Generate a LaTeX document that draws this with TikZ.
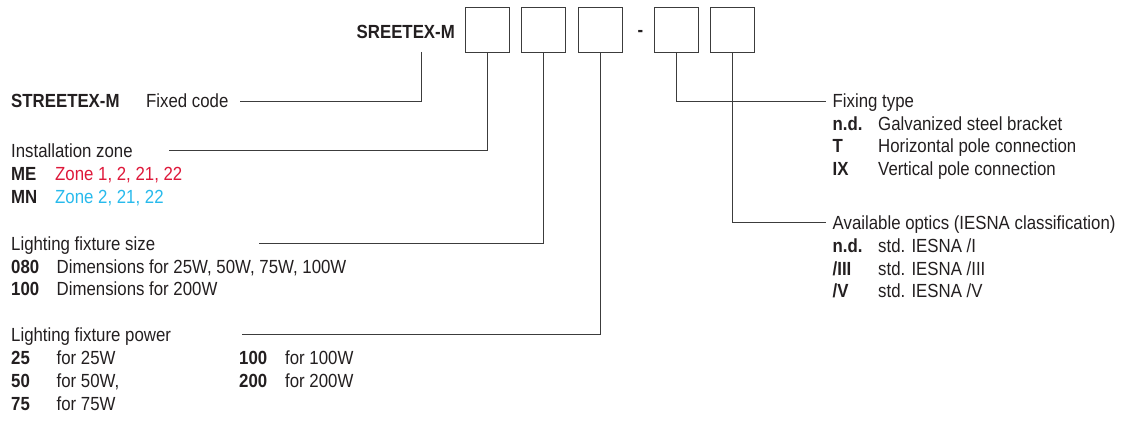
\documentclass[tikz,border=0pt]{standalone}
\usepackage{fontspec}
\setmainfont{Liberation Sans}[FakeStretch=0.885]
\definecolor{ink}{RGB}{35,31,32}
\definecolor{linec}{RGB}{60,60,60}
\definecolor{zonered}{RGB}{222,24,58}
\definecolor{zonecyan}{RGB}{40,186,236}
\begin{document}
\begin{tikzpicture}[x=1pt,y=-1pt,
  txt/.style={anchor=base west, inner sep=0pt, text=ink, font=\fontsize{19}{21}\selectfont},
  lbl/.style={txt, font=\fontsize{19}{21}\selectfont\bfseries},
  codebox/.style={draw=linec, line width=0.9pt, minimum width=44pt, minimum height=45pt, inner sep=0pt},
  conn/.style={draw=linec, line width=0.9pt}]
\useasboundingbox (0,0) rectangle (1126,420);

% code line
\node[lbl, anchor=base east] (sree) at (455,38.3) {SREETEX-M};
\node[codebox] (b1) at (487,29.5) {};
\node[codebox] (b2) at (543.5,29.5) {};
\node[codebox] (b3) at (600.5,29.5) {};
\node[lbl, anchor=base] (dash) at (640.5,37) {-};
\node[codebox] (b4) at (676.5,29.5) {};
\node[codebox] (b5) at (732,29.5) {};

% left column
\node[lbl] (fixl) at (11,107.7) {STREETEX-M};
\node[txt] (fixv) at (146,107.7) {Fixed code};

\node[txt] (zonet) at (11,157) {Installation zone};
\node[lbl] (mel) at (11,180.5) {ME};
\node[txt, text=zonered] (mev) at (55,180.5) {Zone 1, 2, 21, 22};
\node[lbl] (mnl) at (11,203.5) {MN};
\node[txt, text=zonecyan] (mnv) at (55,203.5) {Zone 2, 21, 22};

\node[txt] (sizet) at (11,250.5) {Lighting fixture size};
\node[lbl] (s1l) at (11,273) {080};
\node[txt] (s1v) at (56.5,273) {Dimensions for 25W, 50W, 75W, 100W};
\node[lbl] (s2l) at (11,295.5) {100};
\node[txt] (s2v) at (56.5,295.5) {Dimensions for 200W};

\node[txt] (powt) at (11,341) {Lighting fixture power};
\node[lbl] (p1l) at (11,364) {25};
\node[txt] (p1v) at (56.5,364) {for 25W};
\node[lbl] (p2l) at (11,387) {50};
\node[txt] (p2v) at (56.5,387) {for 50W,};
\node[lbl] (p3l) at (11,410) {75};
\node[txt] (p3v) at (56.5,410) {for 75W};
\node[lbl] (p4l) at (239,364) {100};
\node[txt] (p4v) at (285,364) {for 100W};
\node[lbl] (p5l) at (239,387) {200};
\node[txt] (p5v) at (285,387) {for 200W};

% right column
\node[txt] (fixtt) at (832.5,107.7) {Fixing type};
\node[lbl] (f1l) at (832.5,130) {n.d.};
\node[txt] (f1v) at (878,130) {Galvanized steel bracket};
\node[lbl] (f2l) at (832.5,152.5) {T};
\node[txt] (f2v) at (878,152.5) {Horizontal pole connection};
\node[lbl] (f3l) at (832.5,175) {IX};
\node[txt] (f3v) at (878,175) {Vertical pole connection};

\node[txt] (optt) at (832.5,229) {Available optics (IESNA classification)};
\node[lbl] (o1l) at (832.5,252.5) {n.d.};
\node[txt] (o1v) at (878,252.5) {std. IESNA /I};
\node[lbl] (o2l) at (832.5,275) {/III};
\node[txt] (o2v) at (878,275) {std. IESNA /III};
\node[lbl] (o3l) at (832.5,297.5) {/V};
\node[txt] (o3v) at (878,297.5) {std. IESNA /V};

% connector end points
\coordinate (c0) at (421,52);
\coordinate (e0) at (240,101);
\coordinate (e1) at (169,150.7);
\coordinate (e2) at (259,243.3);
\coordinate (e3) at (241.5,334);
\coordinate (e4) at (826,101);
\coordinate (e5) at (826,222);

\draw[conn] (c0) |- (e0);
\draw[conn] (b1.south) |- (e1);
\draw[conn] (b2.south) |- (e2);
\draw[conn] (b3.south) |- (e3);
\draw[conn] (b4.south) |- (e4);
\draw[conn] (b5.south) |- (e5);
\end{tikzpicture}
\end{document}
